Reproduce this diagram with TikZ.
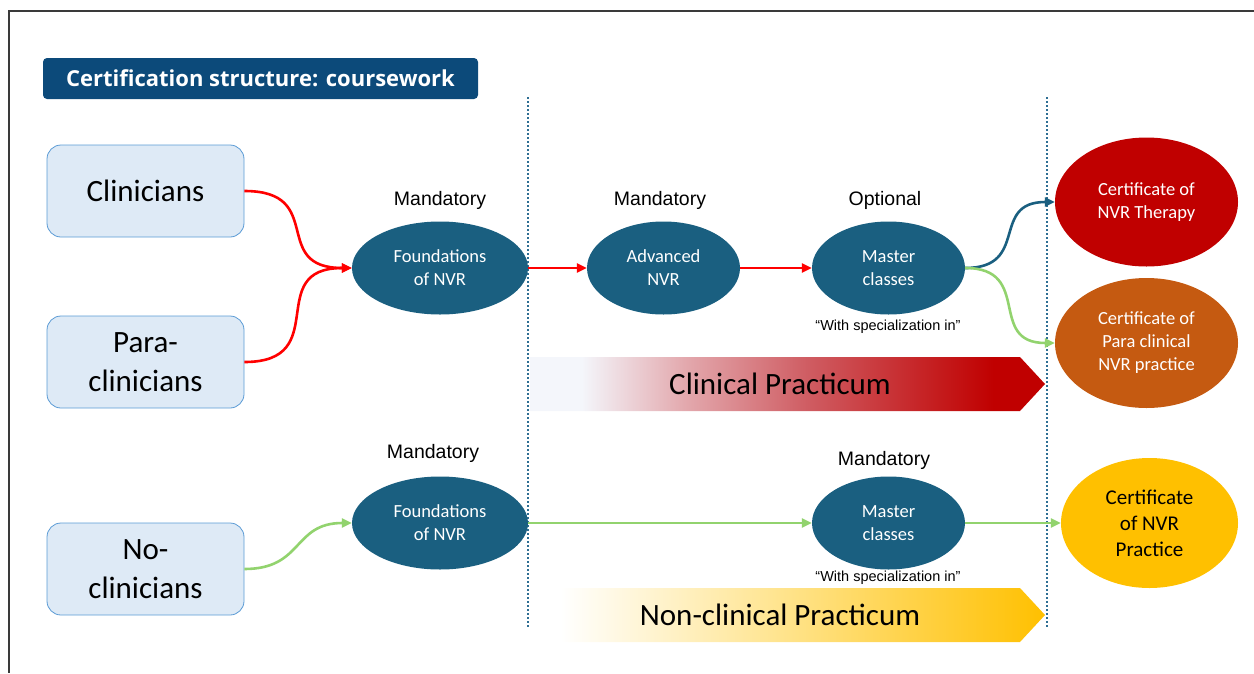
\documentclass[tikz,border=0pt]{standalone}
\usepackage{fontspec}
\setmainfont{Carlito}
\newfontfamily\headfont{Open Sans}
\newfontfamily\notefont{Liberation Sans}
\usetikzlibrary{shapes.geometric,arrows.meta}

\definecolor{headblue}{HTML}{0C4A7A}
\definecolor{boxfill}{HTML}{DEEAF6}
\definecolor{boxline}{HTML}{5B9BD5}
\definecolor{courseteal}{HTML}{1A5F80}
\definecolor{divider}{HTML}{2E6E93}
\definecolor{certred}{HTML}{C00000}
\definecolor{certorange}{HTML}{C55A11}
\definecolor{certyellow}{HTML}{FFC000}
\definecolor{arrowred}{HTML}{FF0000}
\definecolor{pathgreen}{HTML}{92D36E}
\definecolor{framegray}{HTML}{3A3A3A}
\definecolor{palefill}{HTML}{F4F6FB}
\definecolor{clinpink}{HTML}{E3A9AE}
\definecolor{clinrose}{HTML}{CF5C62}
\definecolor{nonmid}{HTML}{FFE38A}

\pgfdeclarehorizontalshading{clinshade}{100bp}{color(0bp)=(palefill); color(30bp)=(palefill);
  color(40bp)=(clinpink); color(52bp)=(clinrose); color(70bp)=(certred); color(100bp)=(certred)}
\pgfdeclarehorizontalshading{nonclinshade}{100bp}{color(0bp)=(white); color(28bp)=(white);
  color(50bp)=(nonmid); color(75bp)=(certyellow); color(100bp)=(certyellow)}

\begin{document}
\begin{tikzpicture}[x=1pt,y=-1pt]

  \useasboundingbox (0,0) rectangle (1254,673);
  \draw[framegray,line width=1.6pt] (1254,11) -- (9,11) -- (9,673);

  \begin{scope}[divider,line width=2.2pt,dash pattern=on 2pt off 2pt]
    \draw (528,97) -- (528,628);
    \draw (1047,97) -- (1047,628);
  \end{scope}

  \shade[shading=clinshade] (530,357) -- (1020,357) -- (1045,384) -- (1020,411) -- (530,411) -- cycle;
  \shade[shading=nonclinshade] (530,588) -- (1020,588) -- (1045,615) -- (1020,642) -- (530,642) -- cycle;

  \node[fill=headblue,rounded corners=4pt,minimum width=435,minimum height=41,text=white,
    font=\headfont\bfseries\fontsize{22}{26}\selectfont] (title) at (260.5,78.5) {Certification structure: coursework};

  \begin{scope}[every node/.style={draw=boxline,line width=0.8pt,fill=boxfill,rounded corners=14pt,
      minimum width=197,minimum height=92,align=center,font=\fontsize{31}{39}\selectfont}]
    \node (1) at (145.5,191) {Clinicians};
    \node (2) at (145.5,362) {Para-\\clinicians};
    \node (3) at (145.5,569) {No-\\clinicians};
  \end{scope}

  \begin{scope}[every node/.style={ellipse,inner sep=0pt,align=center,text=white,font=\fontsize{18.5}{23}\selectfont}]
    \node[fill=courseteal,minimum width=176,minimum height=93] (4) at (440,268) {Foundations\\of NVR};
    \node[fill=courseteal,minimum width=153,minimum height=93] (5) at (663.5,268) {Advanced\\NVR};
    \node[fill=courseteal,minimum width=153,minimum height=93] (6) at (888.5,268) {Master\\classes};
    \node[fill=courseteal,minimum width=176,minimum height=93] (7) at (440,523) {Foundations\\of NVR};
    \node[fill=courseteal,minimum width=153,minimum height=93] (8) at (888.5,523) {Master\\classes};
    \node[fill=certred,minimum width=183,minimum height=129] (9) at (1146.5,202) {Certificate of\\NVR Therapy};
    \node[fill=certorange,minimum width=183,minimum height=130] (10) at (1146.5,343) {Certificate of\\Para clinical\\NVR practice};
    \node[fill=certyellow,text=black,minimum width=177,minimum height=130,
      font=\fontsize{21}{26}\selectfont] (11) at (1149.5,523) {Certificate\\of NVR\\Practice};
  \end{scope}

  \begin{scope}[every node/.style={font=\notefont\fontsize{19.5}{23}\selectfont}]
    \node (m1) at (440,200) {Mandatory};
    \node (m2) at (660,200) {Mandatory};
    \node (o1) at (885,200) {Optional};
    \node (m3) at (433,453) {Mandatory};
    \node (m4) at (884,460) {Mandatory};
  \end{scope}

  \begin{scope}[every node/.style={font=\notefont\fontsize{14.5}{17}\selectfont}]
    \node (s1) at (888,327) {“With specialization in”};
    \node (s2) at (888,578) {“With specialization in”};
  \end{scope}

  \begin{scope}[every node/.style={font=\fontsize{31}{36}\selectfont}]
    \node (p1) at (780,384) {Clinical Practicum};
    \node (p2) at (780,615) {Non-clinical Practicum};
  \end{scope}

  \begin{scope}[every edge/.style={draw,line width=2.6pt,-{Triangle[length=10pt,width=9pt]}}]
    \path (1.east) edge[arrowred,out=0,in=180,looseness=1.6] (4.west);
    \path (2.east) edge[arrowred,out=0,in=180,looseness=1.6] (4.west);
    \path (4) edge[arrowred] (5);
    \path (5) edge[arrowred] (6);
    \path (6.east) edge[courseteal,out=0,in=180,looseness=1.5] (9.west);
    \path (6.east) edge[pathgreen,out=0,in=180,looseness=1.5] (10.west);
    \path (3.east) edge[pathgreen,out=0,in=180,looseness=1.3] (7.west);
    \path (7) edge[pathgreen] (8);
    \path (8) edge[pathgreen] (11);
  \end{scope}

\end{tikzpicture}
\end{document}
